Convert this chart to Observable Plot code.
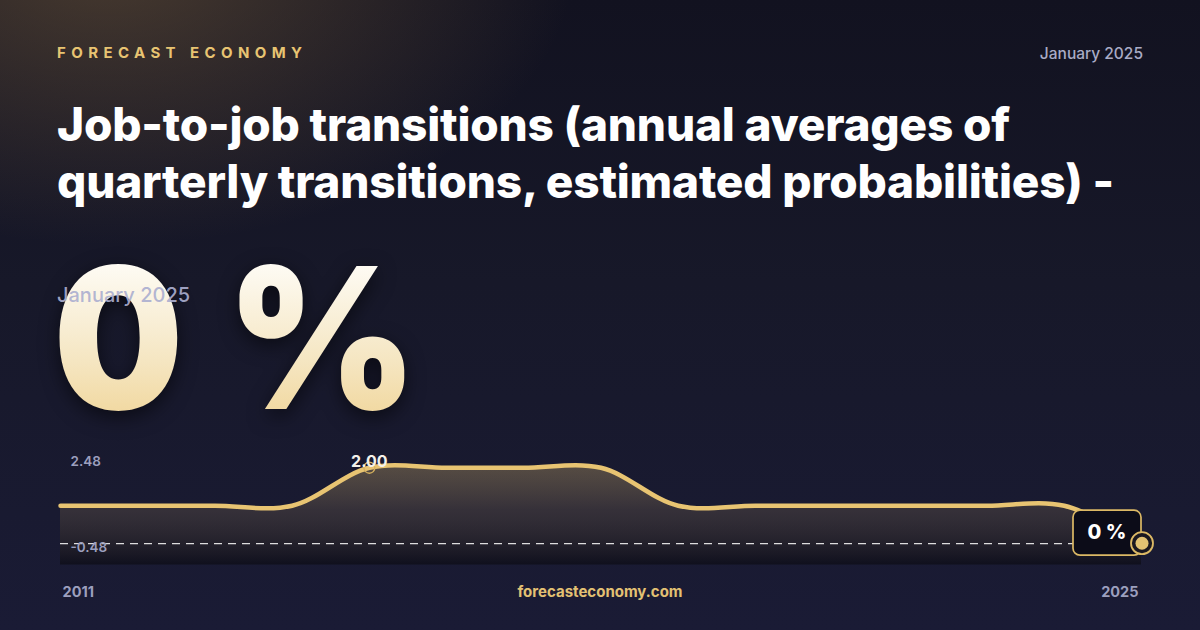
<!DOCTYPE html>
<html>
<head>
<meta charset="utf-8">
<script src="https://cdn.jsdelivr.net/npm/d3@7"></script>
<script src="https://cdn.jsdelivr.net/npm/@observablehq/plot@0.6"></script>
<style>
  html, body { margin: 0; padding: 0; }
  body {
    width: 1200px; height: 630px; overflow: hidden; position: relative;
    font-family: Inter, "Noto Sans", sans-serif;
    background:
      radial-gradient(ellipse 620px 380px at 110px -40px, rgba(125,98,62,0.50), rgba(125,98,62,0) 75%),
      linear-gradient(180deg, #121220 0%, #171829 45%, #1a1b35 100%);
  }
  .brand { position: absolute; left: 57px; top: 43px; font-size: 15px; font-weight: 700;
    letter-spacing: 5.4px; color: #e8c472; }
  .date { position: absolute; right: 57px; top: 44px; font-size: 15.5px; font-weight: 500; color: #a9abc6; }
  .title { position: absolute; left: 57px; top: 96px; width: 1100px; font-size: 46px; font-weight: 800;
    line-height: 57px; color: #ffffff; letter-spacing: -0.2px; }
  .big { position: absolute; left: 53px; top: 228px; font-size: 196px; font-weight: 900; line-height: 220px;
    letter-spacing: 3.3px; white-space: pre; transform: scaleX(0.935); transform-origin: 4px 0;
    background: linear-gradient(180deg, #fffefb 10%, #f5e6c2 60%, #efd08c 100%);
    -webkit-background-clip: text; background-clip: text; color: transparent;
    filter: drop-shadow(0 6px 10px rgba(0,0,0,0.55)); }
  .sub { position: absolute; left: 57px; top: 283px; font-size: 20px; font-weight: 500; color: rgba(172,175,208,0.92); }
  .foot { position: absolute; left: 0; width: 1200px; top: 582px; text-align: center; font-size: 15px;
    font-weight: 700; color: #e3c173; }
  #chart { position: absolute; left: 0; top: 430px; }
  #chart svg { overflow: visible; }
</style>
</head>
<body>
<div class="brand">FORECAST ECONOMY</div>
<div class="date" id="date"></div>
<div class="title" id="title"></div>
<div class="big" id="big"></div>
<div class="sub" id="sub"></div>
<div class="foot">forecasteconomy.com</div>
<div id="chart"></div>
<script>
// ---- data ----
const years  = [2011, 2012, 2013, 2014, 2015, 2016, 2017, 2018, 2019, 2020, 2021, 2022, 2023, 2024, 2025];
const values = [1, 1, 1, 1, 2, 2, 2, 2, 1, 1, 1, 1, 1, 1, 0];
const yLabelTop = 2.48;
const yLabelBottom = -0.48;
const xLabelStart = 2011;
const xLabelEnd = 2025;
const yFloor = -0.56;
const titleText = "Job-to-job transitions (annual averages of quarterly transitions, estimated probabilities) -";
const dateText = "January 2025";

const data = years.map((y, i) => ({year: y, value: values[i]}));
const last = data[data.length - 1];
const maxVal = d3.max(values);
const maxPoint = data.find(d => d.value === maxVal);
const unitFmt = v => `${d3.format("d")(v)} %`;

document.getElementById("title").textContent = titleText;
document.getElementById("date").textContent = dateText;
document.getElementById("sub").textContent = dateText;
document.getElementById("big").textContent = unitFmt(last.value);

const gold = "#e8c472";
const labelStyle = {fill: "#9c9fbe", fontFamily: "Inter, sans-serif"};

const endBadge = (index, scales, vals, dims, ctx) => {
  const g = d3.create("svg:g");
  for (const i of index) {
    const cx = vals.x[i], cy = vals.y[i];
    g.append("rect").attr("x", cx - 68).attr("y", cy - 33).attr("width", 68).attr("height", 45)
      .attr("rx", 7).attr("fill", "#0c0c18").attr("stroke", "#dcb965").attr("stroke-width", 1.7);
    g.append("text").attr("x", cx - 34).attr("y", cy - 11).attr("text-anchor", "middle")
      .attr("dominant-baseline", "central").attr("fill", "#ffffff").attr("font-size", 20)
      .attr("font-weight", 800).attr("font-family", "Inter, sans-serif").text(unitFmt(last.value));
    g.append("circle").attr("cx", cx + 1).attr("cy", cy).attr("r", 11).attr("fill", "#1a1820")
      .attr("stroke", "#dcb965").attr("stroke-width", 1.8);
    g.append("circle").attr("cx", cx + 1).attr("cy", cy).attr("r", 6.5).attr("fill", "#e2c272");
  }
  return g.node();
};

const plot = Plot.plot({
  width: 1200,
  height: 200,
  marginLeft: 60,
  marginRight: 59,
  marginTop: 19,
  marginBottom: 65.5,
  x: {domain: d3.extent(years), axis: null},
  y: {domain: [yFloor, yLabelTop], axis: null},
  style: {background: "transparent", overflow: "visible"},
  marks: [
    Plot.areaY(data, {x: "year", y1: yFloor, y2: "value", curve: "catmull-rom", fill: "url(#areaGrad)"}),
    Plot.ruleY([last.value], {stroke: "#f2f2f2", strokeWidth: 1.3, strokeDasharray: "8,6", strokeOpacity: 0.9}),
    Plot.line(data, {x: "year", y: "value", curve: "catmull-rom", stroke: gold, strokeWidth: 4.5}),
    Plot.dot([maxPoint], {x: "year", y: "value", r: 5.5, stroke: "#d6b15e", strokeWidth: 1.4, fill: "none"}),
    Plot.text([maxPoint], {x: "year", y: "value", text: d => d.value.toFixed(2), dy: -6, fill: "#f4f1ea",
      fontSize: 16, fontWeight: 700, fontFamily: "Inter, sans-serif"}),
    Plot.text([yLabelTop], {x: xLabelStart, y: d => d, text: d => d.toFixed(2), textAnchor: "start",
      dx: 10, dy: 12, fontSize: 13.5, fontWeight: 600, ...labelStyle}),
    Plot.text([yLabelBottom], {x: xLabelStart, y: d => d, text: d => d.toFixed(2), textAnchor: "start",
      dx: 10, dy: -14.5, fontSize: 13.5, fontWeight: 600, ...labelStyle}),
    Plot.text([xLabelStart], {x: d => d, y: yFloor, text: d => String(d), textAnchor: "start",
      dx: 2, dy: 27.5, fontSize: 14.5, fontWeight: 700, ...labelStyle}),
    Plot.text([xLabelEnd], {x: d => d, y: yFloor, text: d => String(d), textAnchor: "end",
      dx: -3, dy: 27.5, fontSize: 14.5, fontWeight: 700, ...labelStyle}),
    Plot.dot([last], {x: "year", y: "value", render: endBadge})
  ]
});

d3.select(plot).insert("defs", ":first-child").html(`
  <linearGradient id="areaGrad" x1="0" y1="0" x2="0" y2="1">
    <stop offset="0%" stop-color="#e8c472" stop-opacity="0.30"/>
    <stop offset="45%" stop-color="#6a5a48" stop-opacity="0.35"/>
    <stop offset="100%" stop-color="#07070c" stop-opacity="0.55"/>
  </linearGradient>`);

document.getElementById("chart").appendChild(plot);
</script>
</body>
</html>
